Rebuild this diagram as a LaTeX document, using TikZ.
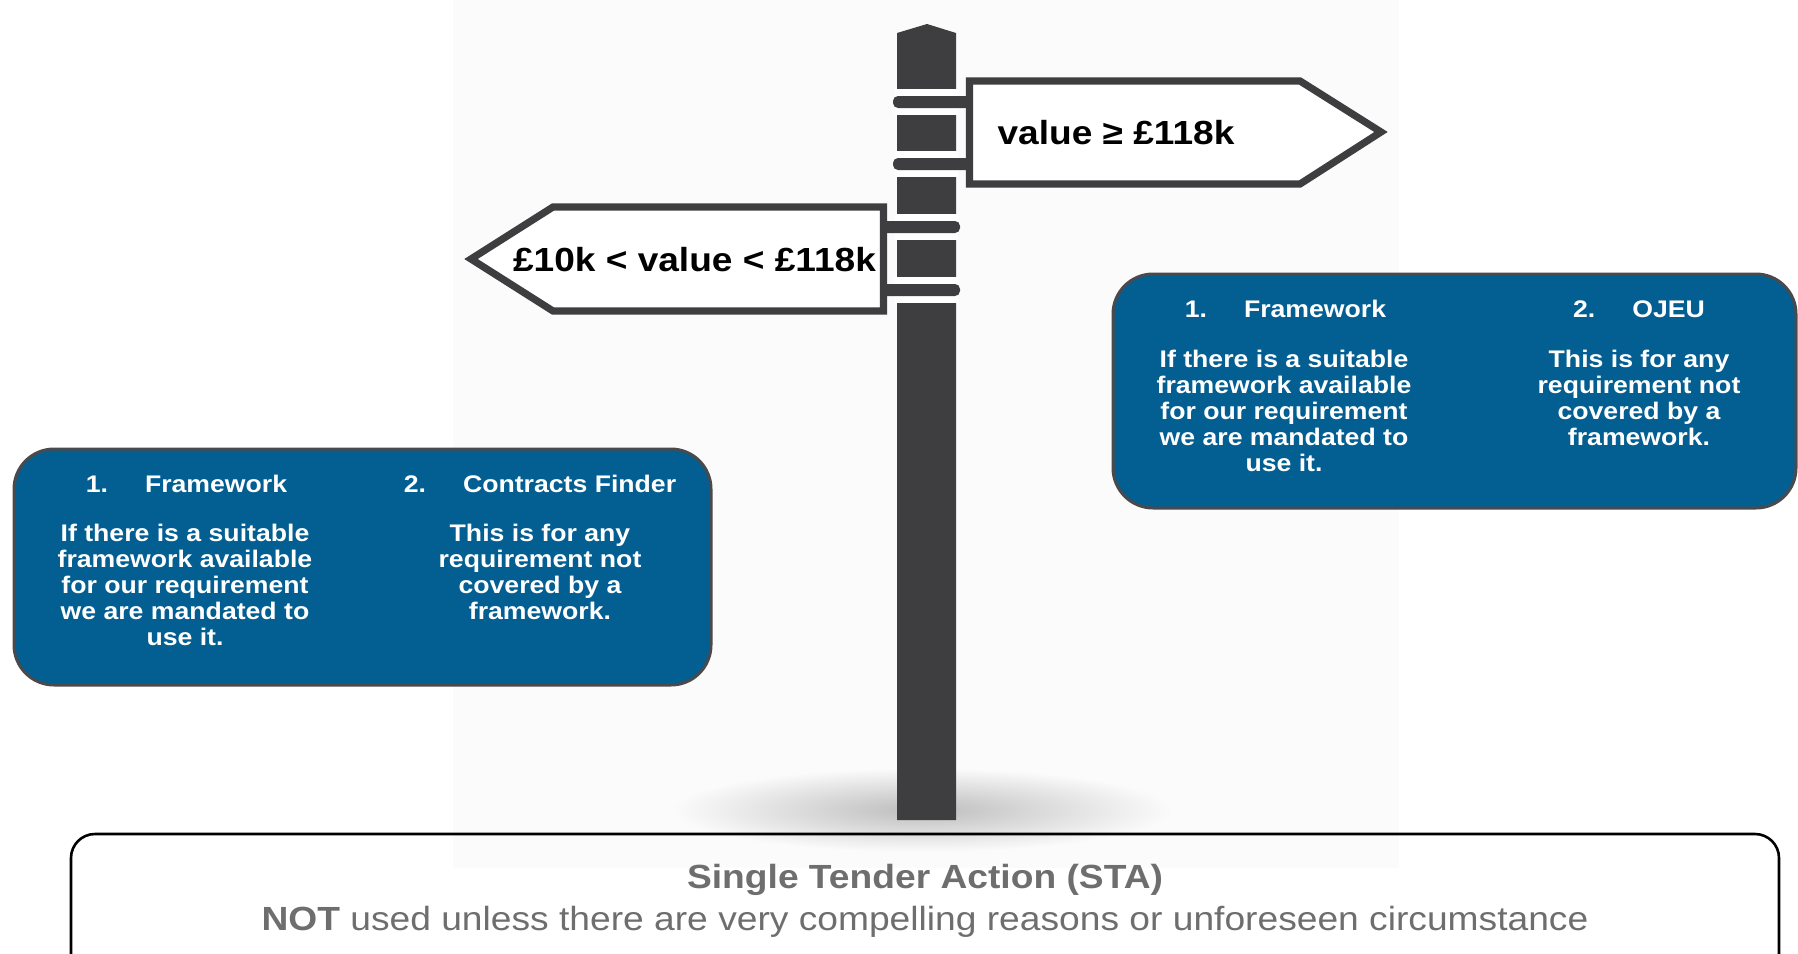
\documentclass[tikz,border=0pt]{standalone}
\usepackage{fontspec}
\setmainfont{Liberation Sans}[FakeStretch=1.11]
\definecolor{postgrey}{HTML}{3E3E40}
\definecolor{boxblue}{HTML}{035E91}
\definecolor{boxedge}{HTML}{4A4A4C}
\definecolor{stagrey}{HTML}{6E6E6E}
\definecolor{photobg}{HTML}{FBFBFB}

\begin{document}
\begin{tikzpicture}[x=0.5pt,y=-0.5pt,
        sign/.style={draw=postgrey,fill=white,line width=3.6pt,line join=miter},
        signtext/.style={anchor=base,inner sep=0pt,font=\bfseries\fontsize{16.7}{20}\selectfont},
        bar/.style={fill=postgrey,rounded corners=2.5pt},
        bluebox/.style={draw=boxedge,fill=boxblue,line width=1.5pt,rounded corners=20pt},
        head/.style={anchor=base,inner sep=0pt,text=white,font=\bfseries\fontsize{12}{13}\selectfont},
        body/.style={head,align=center},
        statext/.style={anchor=base,inner sep=0pt,text=stagrey,font=\fontsize{16.75}{20}\selectfont}]
    \clip (0,0) rectangle (1798,953);
    % backdrop and ground shadow
    \fill[photobg] (453,0) rectangle (1399,868);
    \shade[inner color=black!26,outer color=photobg] (922,810) ellipse [x radius=250,y radius=42];

    % post
    \fill[postgrey] (897,33) -- (927,24) -- (956,33) -- (956,820) -- (897,820) -- cycle;
    \foreach \y in {102,164} {
        \fill[white] (895,\y-13) rectangle (958,\y+13);
        \fill[bar] (893,\y-6) rectangle (972,\y+6);
    }
    \foreach \y in {227,290} {
        \fill[white] (895,\y-13) rectangle (958,\y+13);
        \fill[bar] (878,\y-6) rectangle (960,\y+6);
    }

    % signs
    \draw[sign] (969.5,81) -- (1300,81) -- (1381,132) -- (1300,184) -- (969.5,184) -- cycle;
    \draw[sign] (471,259) -- (553,207) -- (883.5,207) -- (883.5,311) -- (553,311) -- cycle;
    \node[signtext] (upper) at (1116,144) {value ≥ £118k};
    \node[signtext] (middle) at (694.5,271) {£10k < value < £118k};

    % options below the threshold (body nodes sit on their last line)
    \fill[bluebox] (14,449) rectangle (711,685);
    \node[head] (lfwhead) at (186.5,492.5) {1.\hspace{18.5pt}Framework};
    \node[body] (lfwbody) at (185,645.7) {If there is a suitable\\framework available\\for our requirement\\we are mandated to\\use it.};
    \node[head] (lcfhead) at (540,492.5) {2.\hspace{18.5pt}Contracts Finder};
    \node[body] (lcfbody) at (540,619.7) {This is for any\\requirement not\\covered by a\\framework.};

    % options above the threshold
    \fill[bluebox] (1113,274) rectangle (1796,508);
    \node[head] (rfwhead) at (1285.5,317) {1.\hspace{18.5pt}Framework};
    \node[body] (rfwbody) at (1284,471) {If there is a suitable\\framework available\\for our requirement\\we are mandated to\\use it.};
    \node[head] (rojhead) at (1639,317) {2.\hspace{18.5pt}OJEU};
    \node[body] (rojbody) at (1639,445) {This is for any\\requirement not\\covered by a\\framework.};

    % single tender action
    \draw[line width=1.3pt,rounded corners=12pt] (71,834) rectangle (1779,990);
    \node[statext,font=\bfseries\fontsize{16.75}{20}\selectfont] (sta) at (925,888) {Single Tender Action (STA)};
    \node[statext] (stanote) at (925,930) {\textbf{NOT} used unless there are very compelling reasons or unforeseen circumstance};
\end{tikzpicture}
\end{document}
